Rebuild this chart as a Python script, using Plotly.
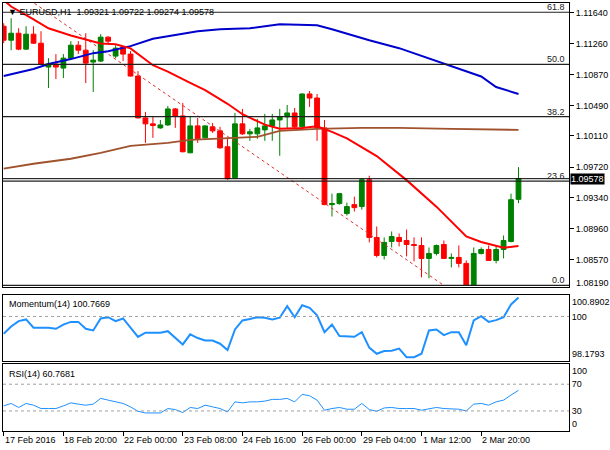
import plotly.graph_objects as go

# EURUSD candles (one bar every 4 hours, header says H1)
opens = [1.11475, 1.11301, 1.11388, 1.11190, 1.11376, 1.11264, 1.10967, 1.11004, 1.10954, 1.11078,
         1.11239, 1.11177, 1.11029, 1.11041, 1.11339, 1.11103, 1.11215, 1.11128, 1.10855, 1.10334,
         1.10260, 1.10210, 1.10247, 1.10446, 1.10359, 1.09900, 1.10235, 1.10086, 1.10223, 1.10173,
         1.09975, 1.09590, 1.10260, 1.10136, 1.10136, 1.10185, 1.10235, 1.10309, 1.10347, 1.10396,
         1.10223, 1.10632, 1.10582, 1.10210, 1.09255, 1.09268, 1.09144, 1.09255, 1.09231, 1.09565,
         1.08847, 1.08623, 1.08797, 1.08847, 1.08809, 1.08759, 1.08747, 1.08586, 1.08648, 1.08759,
         1.08586, 1.08598, 1.08524, 1.08251, 1.08648, 1.08697, 1.08561, 1.08697, 1.08797, 1.09321]
highs = [1.11512, 1.11574, 1.11450, 1.11475, 1.11475, 1.11413, 1.11078, 1.11128, 1.11128, 1.11289,
         1.11289, 1.11388, 1.11177, 1.11376, 1.11351, 1.11239, 1.11227, 1.11165, 1.10917, 1.10409,
         1.10359, 1.10309, 1.10483, 1.10458, 1.10520, 1.10359, 1.10334, 1.10240, 1.10272, 1.10223,
         1.10086, 1.10396, 1.10446, 1.10198, 1.10322, 1.10384, 1.10384, 1.10446, 1.10495, 1.10458,
         1.10640, 1.10669, 1.10632, 1.10309, 1.09392, 1.09400, 1.09280, 1.09355, 1.09578, 1.09615,
         1.08983, 1.08847, 1.08921, 1.08896, 1.08945, 1.08847, 1.08847, 1.08722, 1.08759, 1.08809,
         1.08648, 1.08747, 1.08561, 1.08722, 1.08722, 1.08747, 1.08747, 1.08871, 1.09392, 1.09722]
lows = [1.11264, 1.11177, 1.11177, 1.11180, 1.11255, 1.10995, 1.10706, 1.10818, 1.10830, 1.11066,
        1.11128, 1.10768, 1.10657, 1.11029, 1.11252, 1.11078, 1.11041, 1.10850, 1.10330, 1.10024,
        1.10086, 1.10198, 1.10235, 1.10210, 1.09905, 1.09895, 1.10024, 1.10074, 1.10148, 1.09950,
        1.09565, 1.09578, 1.10123, 1.10049, 1.10074, 1.10049, 1.10049, 1.09863, 1.10210, 1.10210,
        1.10210, 1.10471, 1.10049, 1.09250, 1.09107, 1.09255, 1.09119, 1.09169, 1.09193, 1.08785,
        1.08598, 1.08573, 1.08722, 1.08735, 1.08611, 1.08549, 1.08350, 1.08338, 1.08623, 1.08580,
        1.08474, 1.08474, 1.08245, 1.08245, 1.08635, 1.08555, 1.08524, 1.08586, 1.08785, 1.09274]
closes = [1.11301, 1.11388, 1.11190, 1.11376, 1.11264, 1.11004, 1.11004, 1.10967, 1.11078, 1.11239,
          1.11177, 1.11016, 1.11053, 1.11339, 1.11289, 1.11202, 1.11128, 1.10855, 1.10334, 1.10260,
          1.10240, 1.10247, 1.10446, 1.10359, 1.09913, 1.10235, 1.10074, 1.10235, 1.10173, 1.09962,
          1.09578, 1.10260, 1.10136, 1.10161, 1.10210, 1.10235, 1.10309, 1.10347, 1.10396, 1.10223,
          1.10632, 1.10582, 1.10210, 1.09255, 1.09268, 1.09392, 1.09231, 1.09218, 1.09565, 1.08847,
          1.08623, 1.08785, 1.08859, 1.08797, 1.08759, 1.08747, 1.08586, 1.08648, 1.08747, 1.08586,
          1.08598, 1.08524, 1.08251, 1.08648, 1.08697, 1.08561, 1.08697, 1.08809, 1.09317, 1.09578]
bars = list(range(len(opens)))

# moving averages
ma_fast_bars = [0, 1, 4, 6, 9, 11, 13, 15, 17, 20, 22, 25, 27, 30, 32, 35, 37, 40, 42, 44, 46, 50,
                54, 58, 62, 64, 67, 69]
ma_fast = [1.1180, 1.1172, 1.1156, 1.1145, 1.1136, 1.1131, 1.1126, 1.1125, 1.1120, 1.1099, 1.1091,
           1.1077, 1.1068, 1.1051, 1.1038, 1.1025, 1.1020, 1.1021, 1.1023, 1.1016, 1.1008, 1.0986,
           1.0956, 1.0923, 1.0886, 1.0879, 1.0872, 1.0874]
ma_slow_bars = [0, 4, 6, 9, 12, 14, 17, 20, 24, 26, 29, 33, 37, 42, 44, 49, 53, 58, 64, 66, 69]
ma_slow = [1.10855, 1.10942, 1.11004, 1.11066, 1.11140, 1.11165, 1.11227, 1.11320, 1.11380, 1.11413,
           1.11438, 1.11450, 1.11500, 1.11487, 1.11438, 1.11300, 1.11202, 1.11041, 1.10850, 1.10719,
           1.10632]
ma_long_bars = [0, 4, 9, 13, 17, 22, 25, 30, 34, 37, 42, 48, 53, 60, 69]
ma_long = [1.09702, 1.09764, 1.09826, 1.09900, 1.09987, 1.10024, 1.10061, 1.10086, 1.10099, 1.10173,
           1.10198, 1.10210, 1.10210, 1.10198, 1.10185]

# fibonacci retracement drawn from the high to the low
fib_high = 1.1375
fib_low = 1.0825
fib_bars = [-27, 59]
fib_levels = [0.0, 23.6, 38.2, 50.0, 61.8]

momentum = [99.30, 99.59, 99.81, 99.88, 99.54, 99.54, 99.54, 99.50, 99.67, 99.78,
            99.78, 99.50, 99.43, 99.92, 99.97, 99.81, 99.92, 99.55, 99.17, 99.34,
            99.34, 99.34, 99.40, 99.15, 98.86, 99.27, 99.12, 99.02, 99.02, 98.89,
            98.63, 99.47, 99.84, 99.90, 99.97, 99.95, 99.88, 99.95, 100.42, 99.97,
            100.46, 100.35, 100.05, 99.36, 99.67, 99.20, 99.20, 99.17, 99.36, 98.73,
            98.48, 98.59, 98.60, 98.69, 98.34, 98.34, 98.48, 99.43, 99.47, 99.24,
            99.36, 99.36, 98.83, 99.84, 100.01, 99.78, 99.85, 99.97, 100.49, 100.77]
rsi = [37.6, 41.2, 35.2, 41.2, 38.6, 33.6, 33.6, 33.6, 37.6, 42.1,
       40.2, 38.6, 40.2, 48.8, 46.2, 43.6, 41.2, 36.1, 29.5, 27.0,
       27.0, 27.0, 33.6, 32.1, 27.6, 35.2, 33.6, 38.6, 36.1, 33.6,
       28.5, 43.6, 42.1, 43.6, 43.6, 44.7, 47.3, 47.3, 48.8, 43.6,
       54.8, 52.7, 46.2, 31.1, 33.6, 35.2, 32.6, 32.6, 41.2, 32.1,
       29.5, 34.5, 35.2, 33.6, 33.6, 33.6, 31.1, 32.6, 35.2, 33.6,
       33.6, 32.6, 30.0, 40.2, 41.2, 38.6, 43.6, 46.2, 53.8, 60.8]
mom_current, mom_max, mom_min = 100.7669, 100.8902, 98.1793
rsi_current = 60.7681
rsi_levels = [70, 30]

price_ticks = [1.11640, 1.11260, 1.10870, 1.10490, 1.10110, 1.09720, 1.09340, 1.08960, 1.08570]
price_bottom_label = 1.08190
time_labels = ['17 Feb 2016', '18 Feb 20:00', '22 Feb 00:00', '23 Feb 08:00', '24 Feb 16:00',
               '26 Feb 00:00', '29 Feb 04:00', '1 Mar 12:00', '2 Mar 20:00']
label_bars = [0, 8, 16, 24, 32, 40, 48, 56, 64]
header = '▼ EURUSD,H1  1.09321 1.09722 1.09274 1.09578'

FONT = 'Liberation Sans'
UP = '#008000'
DOWN = '#ff0000'

fig = go.Figure()

fig.add_trace(go.Candlestick(x=bars, open=opens, high=highs, low=lows, close=closes,
                             increasing=dict(line=dict(color=UP, width=1), fillcolor=UP),
                             decreasing=dict(line=dict(color=DOWN, width=1), fillcolor=DOWN),
                             whiskerwidth=0, xaxis='x', yaxis='y', hoverinfo='skip'))

fig.add_trace(go.Scatter(x=fib_bars, y=[fib_high, fib_low], mode='lines',
                         line=dict(color='#e03030', width=1, dash='3px,3px'), xaxis='x', yaxis='y'))
fig.add_trace(go.Scatter(x=ma_long_bars, y=ma_long, mode='lines',
                         line=dict(color='#a0522d', width=1.8), xaxis='x', yaxis='y'))
fig.add_trace(go.Scatter(x=ma_slow_bars, y=ma_slow, mode='lines',
                         line=dict(color='#0000cd', width=2), xaxis='x', yaxis='y'))
fig.add_trace(go.Scatter(x=ma_fast_bars, y=ma_fast, mode='lines',
                         line=dict(color='#ff0000', width=2), xaxis='x', yaxis='y'))

fig.add_trace(go.Scatter(x=bars, y=momentum, mode='lines',
                         line=dict(color='#1e90ff', width=2), xaxis='x2', yaxis='y2'))
fig.add_trace(go.Scatter(x=bars, y=rsi, mode='lines',
                         line=dict(color='#1e90ff', width=1), xaxis='x3', yaxis='y3'))

# fib level lines and their labels
for level in fib_levels:
    price = fib_low + (fib_high - fib_low) * level / 100
    fig.add_shape(type='line', xref='paper', yref='y', x0=0, x1=1, y0=price, y1=price,
                  line=dict(color='#202020', width=1.2))
    fig.add_annotation(xref='paper', yref='y', x=1, y=price, text=f'{level:.1f}',
                       xanchor='right', yanchor='bottom', xshift=-2, yshift=-2, showarrow=False,
                       font=dict(family=FONT, size=9, color='#202020'))

# bid line and price tag
fig.add_shape(type='line', xref='paper', yref='y', x0=0, x1=1, y0=closes[-1], y1=closes[-1],
              line=dict(color='black', width=1))
fig.add_annotation(xref='paper', yref='y', x=1, y=closes[-1], text=f'{closes[-1]:.5f}',
                   xanchor='left', xshift=1, showarrow=False, bgcolor='black', borderpad=0,
                   font=dict(family=FONT, size=9, color='white'))

# bottom price label sits under the main window
fig.add_annotation(xref='paper', yref='paper', x=1, y=0.33, text=f'{price_bottom_label:.5f}',
                   xanchor='left', xshift=5, showarrow=False,
                   font=dict(family=FONT, size=9, color='black'))

for level in rsi_levels:
    fig.add_shape(type='line', xref='x3 domain', yref='y3', x0=0, x1=1, y0=level, y1=level,
                  line=dict(color='#a0a0a0', width=1, dash='3px,3px'))
fig.add_shape(type='line', xref='x2 domain', yref='y2', x0=0, x1=1, y0=100, y1=100,
              line=dict(color='#a0a0a0', width=1, dash='3px,3px'))

# window titles
fig.add_annotation(xref='x domain', yref='y domain', x=0, y=1, text=header, xanchor='left',
                   yanchor='top', xshift=3, yshift=-2, showarrow=False,
                   font=dict(family=FONT, size=9, color='black'))
fig.add_annotation(xref='x2 domain', yref='y2 domain', x=0, y=1, text=f'Momentum(14) {mom_current}',
                   xanchor='left', yanchor='top', xshift=4, yshift=-2, showarrow=False,
                   font=dict(family=FONT, size=9, color='black'))
fig.add_annotation(xref='x3 domain', yref='y3 domain', x=0, y=1, text=f'RSI(14) {rsi_current}',
                   xanchor='left', yanchor='top', xshift=4, yshift=-3, showarrow=False,
                   font=dict(family=FONT, size=9, color='black'))

# min / max labels of the indicator windows
for ref, ypos, anchor, txt in [('y2 domain', 1, 'top', f'{mom_max}'), ('y2 domain', 0, 'bottom', f'{mom_min}'),
                               ('y3 domain', 1, 'top', '100'), ('y3 domain', 0, 'bottom', '0')]:
    fig.add_annotation(xref='paper', yref=ref, x=1, y=ypos, text=txt, xanchor='left', yanchor=anchor,
                       xshift=1, showarrow=False, font=dict(family=FONT, size=9, color='black'))

# time labels sit to the right of their tick
for b, txt in zip(label_bars, time_labels):
    fig.add_annotation(xref='x3', yref='paper', x=b, y=0, text=txt, xanchor='left', yanchor='top',
                       xshift=-1, yshift=-2, showarrow=False,
                       font=dict(family=FONT, size=9, color='black'))

xbase = dict(range=[-0.093, 75.77], showgrid=False, zeroline=False, showline=True, mirror=True,
             linecolor='black', linewidth=1, showticklabels=False, ticks='')
ybase = dict(showgrid=False, zeroline=False, showline=True, mirror=True, linecolor='black',
             linewidth=1, side='right', tickfont=dict(family=FONT, size=9, color='black'))

fig.update_layout(
    width=610, height=450, margin=dict(l=2, r=39, t=2, b=19),
    paper_bgcolor='white', plot_bgcolor='white', showlegend=False,
    boxgap=0.2, boxgroupgap=0.2,
    xaxis=dict(xbase, anchor='y', rangeslider=dict(visible=False)),
    xaxis2=dict(xbase, anchor='y2', matches='x'),
    xaxis3=dict(xbase, anchor='y3', matches='x', ticks='outside', ticklen=4, tickcolor='black',
                tickvals=label_bars),
    yaxis=dict(ybase, domain=[0.3364, 1], range=[1.08230, 1.11764], anchor='x',
               tickvals=price_ticks, ticktext=[f'{p:.5f}' for p in price_ticks],
               ticks='outside', ticklen=4, tickcolor='black'),
    yaxis2=dict(ybase, domain=[0.1632, 0.3186], range=[mom_min, mom_max], anchor='x2',
                tickvals=[100], ticktext=['100'], ticks=''),
    yaxis3=dict(ybase, domain=[0, 0.1562], range=[0, 100], anchor='x3',
                tickvals=rsi_levels, ticktext=[str(v) for v in rsi_levels], ticks=''),
)

# drop the page's default body margin so the chart sits at the window corner
fig.write_html('out.html', config={'displayModeBar': False},
               post_script="document.body.style.margin='0';")
